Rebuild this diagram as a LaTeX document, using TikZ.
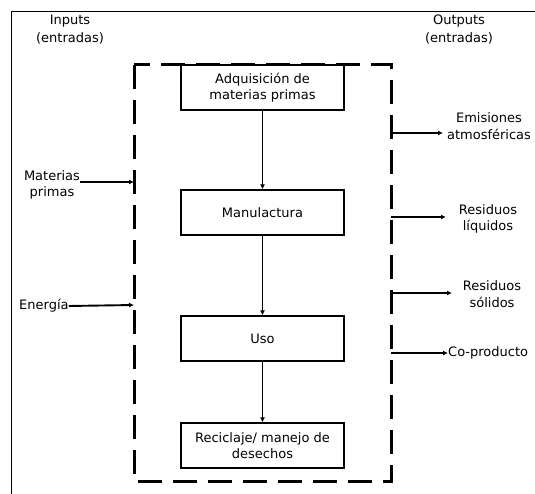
\documentclass[tikz,border=0pt]{standalone}
\usepackage{fontspec}
\setmainfont{DejaVu Sans}
\usetikzlibrary{arrows.meta}
\begin{document}
\begin{tikzpicture}[x=1pt,y=-1pt,
  txt/.style={font=\fontsize{13}{16.5}\selectfont,align=center,inner sep=0pt},
  stage/.style={draw,line width=1.3pt,minimum width=163pt,minimum height=45pt,
    inner sep=0pt,font=\fontsize{13}{16.5}\selectfont,align=center},
  flow/.style={line width=1.9pt,-{Latex[length=5pt,width=5pt]}},
  sysbound/.style={line width=3pt,dash pattern=on 24pt off 11pt},
  frameline/.style={line width=1pt}]
\useasboundingbox (0,0) rectangle (535,494);

% outer frame (top and left edges)
\draw[frameline] (535,12) -- (11,12) -- (11,494);

% column headings
\node[txt] (hin1) at (70,21) {Inputs};
\node[txt] (hin2) at (70,38) {(entradas)};
\node[txt] (hout1) at (459,21) {Outputs};
\node[txt] (hout2) at (459,38) {(entradas)};

% life-cycle stages
\node[stage] (b1) at (262.5,87.5) {Adquisición de\\materias primas};
\node[stage] (b2) at (262.5,212.5) {Manulactura};
\node[stage] (b3) at (262.5,338.5) {Uso};
\node[stage] (b4) at (262.5,445.5) {Reciclaje/ manejo de\\desechos};

% system boundary
\draw[sysbound] (134,65) rectangle (391,481);

% flow between stages
\draw[flow] (b1) -- (b2);
\draw[flow] (b2) -- (b3);
\draw[flow] (b3) -- (b4);

% inputs
\node[txt,align=center] (mp) at (52,185) {Materias\\primas};
\coordinate (mpS) at (80,182);
\coordinate (mpE) at (134,182);
\draw[flow] (mpS) -- (mpE);

\node[txt,anchor=west] (en) at (19,306) {Energía};
\coordinate (enE) at (134,305);
\draw[flow] (en.east) -- (enE);

% outputs
\coordinate (o1) at (391,133);
\node[txt] (em) at (489,126) {Emisiones\\atmosféricas};
\coordinate (o1E) at (443,133);
\draw[flow] (o1) -- (o1E);

\coordinate (o2) at (391,217);
\node[txt] (rl) at (488,219) {Residuos\\líquidos};
\coordinate (o2E) at (446,217);
\draw[flow] (o2) -- (o2E);

\coordinate (o3) at (391,293);
\node[txt] (rs) at (492,294) {Residuos\\sólidos};
\coordinate (o3E) at (452,293);
\draw[flow] (o3) -- (o3E);

\coordinate (o4) at (391,353);
\node[txt,anchor=west] (cp) at (448,353) {Co-producto};
\draw[flow] (o4) -- (cp.west);
\end{tikzpicture}
\end{document}
